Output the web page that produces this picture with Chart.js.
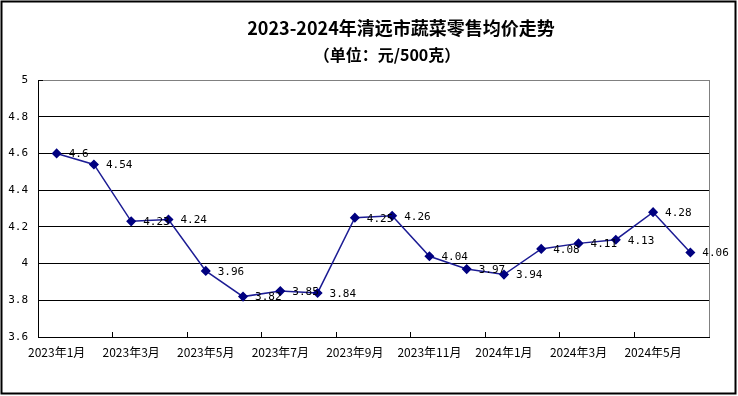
<!DOCTYPE html>
<html>
<head>
<meta charset="utf-8">
<script src="https://cdn.jsdelivr.net/npm/chart.js@4.4.1/dist/chart.umd.min.js"></script>
<style>
  body { margin: 0; background: #fff; }
  canvas { display: block; }
</style>
</head>
<body>
<canvas id="myChart" width="738" height="396"></canvas>
<script>
// data
let months = ['2023年1月', '2023年2月', '2023年3月', '2023年4月', '2023年5月', '2023年6月',
  '2023年7月', '2023年8月', '2023年9月', '2023年10月', '2023年11月', '2023年12月',
  '2024年1月', '2024年2月', '2024年3月', '2024年4月', '2024年5月', '2024年6月'];
let prices = [4.6, 4.54, 4.23, 4.24, 3.96, 3.82, 3.85, 3.84, 4.25, 4.26, 4.04, 3.97,
  3.94, 4.08, 4.11, 4.13, 4.28, 4.06];
let yTicks = [3.6, 3.8, 4, 4.2, 4.4, 4.6, 4.8, 5];
let titleText = '2023-2024年清远市蔬菜零售均价走势';
let subTitleText = '（单位：元/500克）';

// titles, frame and value labels
const extras = {
  id: 'extras',
  afterDatasetsDraw(chart) {
    let ctx = chart.ctx;
    let area = chart.chartArea;
    ctx.save();
    // plot area right border
    ctx.strokeStyle = '#808080';
    ctx.lineWidth = 1;
    ctx.beginPath();
    ctx.moveTo(Math.round(area.right) + 0.5, area.top);
    ctx.lineTo(Math.round(area.right) + 0.5, area.bottom);
    ctx.stroke();

    // value labels
    let meta = chart.getDatasetMeta(0);
    ctx.fillStyle = '#000';
    ctx.font = '11px "DejaVu Sans Mono"';
    ctx.textAlign = 'left';
    ctx.textBaseline = 'middle';
    meta.data.forEach((pt, i) => {
      ctx.fillText(String(prices[i]), pt.x + 12, pt.y + 1);
    });
    ctx.restore();
  },
  afterDraw(chart) {
    let ctx = chart.ctx;
    ctx.save();
    ctx.fillStyle = '#000';
    ctx.textAlign = 'center';
    ctx.textBaseline = 'middle';
    ctx.font = 'bold 18px "Noto Sans CJK SC"';
    ctx.fillText(titleText, 401, 28);
    ctx.font = 'bold 16px "Noto Sans CJK SC"';
    ctx.fillText(subTitleText, 387, 55);
    // outer frame
    ctx.strokeStyle = '#000';
    ctx.lineWidth = 2;
    ctx.strokeRect(1.5, 1.5, 734, 392);
    ctx.restore();
  }
};

// start chart
var ctx = document.getElementById('myChart').getContext('2d');
var chart = new Chart(ctx, {
  type: 'line',
  data: {
    labels: months,
    datasets: [{
      data: prices,
      borderColor: '#1c1c94',
      borderWidth: 1.5,
      backgroundColor: '#000080',
      pointBackgroundColor: '#000080',
      pointBorderColor: '#000080',
      pointStyle: 'rectRot',
      pointRadius: 4,
      pointHoverRadius: 4,
      tension: 0
    }]
  },
  options: {
    responsive: false,
    animation: false,
    events: [],
    layout: { padding: { top: 80, right: 29, bottom: 0, left: 0 } },
    plugins: {
      legend: { display: false },
      title: { display: false },
      tooltip: { enabled: false }
    },
    scales: {
      x: {
        offset: true,
        afterFit: (scale) => { scale.height = 59; },
        grid: {
          offset: true,
          drawOnChartArea: false,
          tickLength: -5,
          color: (c) => (c.index === undefined || c.index % 2 === 0) ? '#000' : 'rgba(0,0,0,0)'
        },
        border: { color: '#000', width: 1 },
        ticks: {
          autoSkip: false,
          maxRotation: 0,
          padding: 13,
          color: '#000',
          font: { family: '"Noto Sans CJK SC"', size: 12 },
          callback: (v, i) => i % 2 === 0 ? months[i] : ''
        }
      },
      y: {
        min: 3.6,
        max: 5,
        afterFit: (scale) => { scale.width = 38; },
        afterBuildTicks: (scale) => { scale.ticks = yTicks.map(v => ({ value: v })); },
        grid: {
          tickLength: -5,
          tickColor: '#000',
          color: (c) => c.tick && c.tick.value === 5 ? '#808080' : '#000'
        },
        border: { color: '#000', width: 1 },
        ticks: {
          padding: 15,
          color: '#000',
          font: { family: '"DejaVu Sans Mono"', size: 11 },
          callback: (v) => String(v)
        }
      }
    }
  },
  plugins: [extras]
});
// End chart
</script>
</body>
</html>
